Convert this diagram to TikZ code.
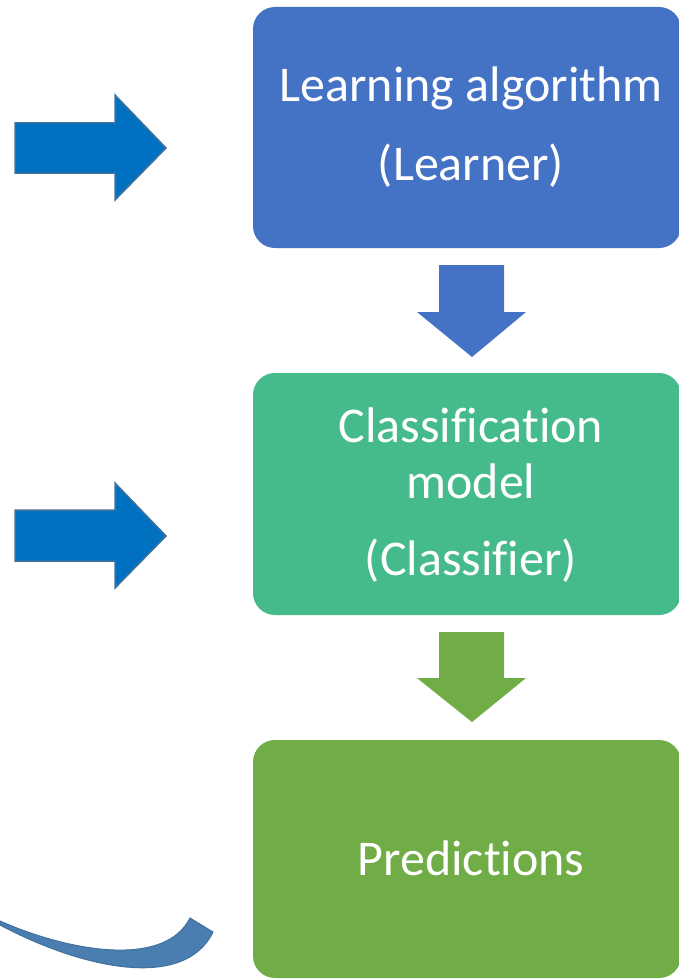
\documentclass[tikz,border=0pt]{standalone}
\usepackage{fontspec}
\setmainfont[Ligatures=NoCommon]{Carlito}
\definecolor{boxblue}{HTML}{4472C4}
\definecolor{boxteal}{HTML}{45BB8C}
\definecolor{boxgreen}{HTML}{70AD47}
\definecolor{arrowblue}{HTML}{0070C0}
\definecolor{edgeblue}{HTML}{41719C}
\definecolor{curveblue}{HTML}{4A7EB1}
\begin{document}
\begin{tikzpicture}[x=1pt,y=-1pt,
  stage/.style={draw=none,rounded corners=22pt},
  lbl/.style={anchor=base,text=white,font=\fontsize{50}{50}\selectfont,inner sep=0pt},
  rarrow/.style={fill=arrowblue,draw=edgeblue,line width=1.5pt,line join=miter},
  darrow/.style={draw=none}]
\useasboundingbox (0,0) rectangle (679,979);
% boxes
\fill[stage,boxblue] (253,7) rectangle (681,248);
\fill[stage,boxteal] (253,373) rectangle (681,615);
\fill[stage,boxgreen] (253,740) rectangle (681,978);
\node[lbl] (l1a) at (471,102) {Learning algorithm};
\node[lbl] (l1b) at (471,180) {(Learner)};
\node[lbl] (l2a) at (471,442) {Classification};
\node[lbl] (l2b) at (471,498) {model};
\node[lbl] (l2c) at (471,575) {(Classifier)};
\node[lbl] (l3a) at (471,875) {Predictions};
% down arrows
\fill[darrow,boxblue] (439,265) -- (504,265) -- (504,312) -- (526,312) -- (472,357) -- (417,312) -- (439,312) -- cycle;
\fill[darrow,boxgreen] (439,632) -- (504,632) -- (504,678) -- (526,678) -- (472,722) -- (417,678) -- (439,678) -- cycle;
% right arrows
\draw[rarrow] (15,123) -- (115,123) -- (115,95) -- (166,148) -- (115,200) -- (115,173) -- (15,173) -- cycle;
\draw[rarrow] (15,510) -- (115,510) -- (115,483) -- (166,536) -- (115,588) -- (115,561) -- (15,561) -- cycle;
% curved piece
\filldraw[fill=curveblue,draw=edgeblue,line width=1pt]
  (0,921) .. controls (70,952) and (165,968) .. (190,918)
  -- (213,932) .. controls (185,990) and (85,970) .. (0,925) -- cycle;
\end{tikzpicture}
\end{document}
